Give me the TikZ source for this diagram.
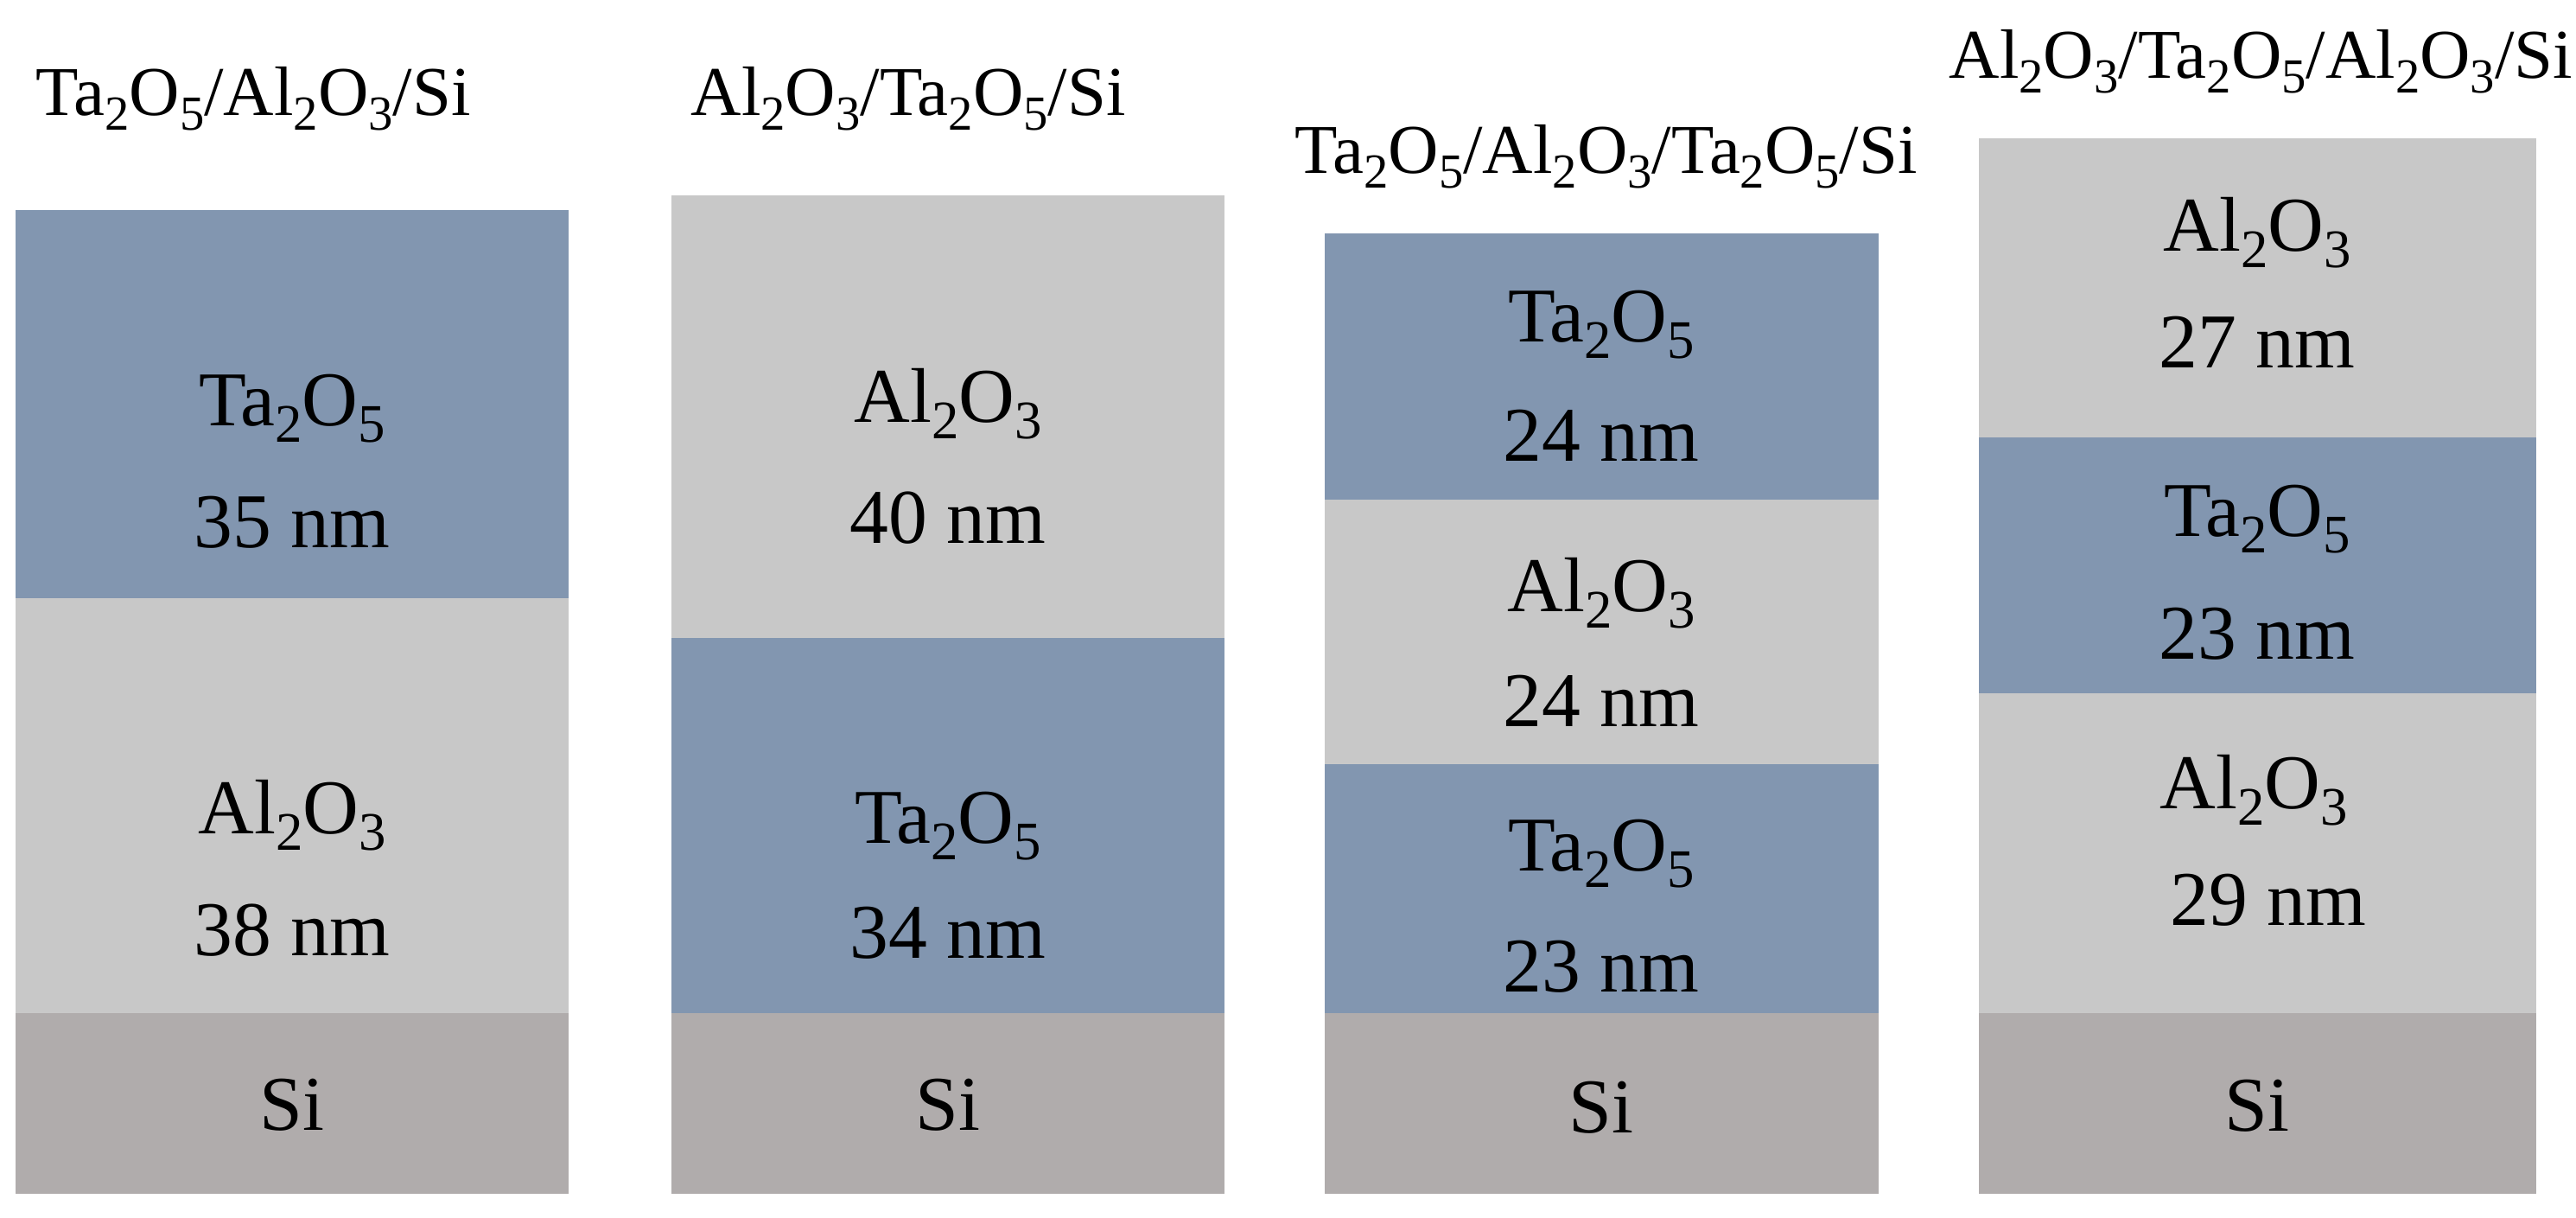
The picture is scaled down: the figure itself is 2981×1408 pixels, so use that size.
\documentclass[tikz,border=0pt]{standalone}
\usepackage{fontspec}
\usepackage{graphicx}
\setmainfont{Liberation Serif}
\usetikzlibrary{fit}
\definecolor{taclr}{RGB}{130,150,176}
\definecolor{alclr}{RGB}{200,200,200}
\definecolor{siclr}{RGB}{176,172,172}
\newcommand\sbx[1]{\raisebox{-0.22em}{\scalebox{0.7}{#1}}}
\newcommand\TaO{Ta\sbx{2}O\sbx{5}}
\newcommand\AlO{Al\sbx{2}O\sbx{3}}
\tikzset{
  layerbox/.style={inner sep=0pt, outer sep=0pt, draw=none},
  lbl/.style={anchor=base, inner sep=0pt, font=\fontsize{25.5}{30}\selectfont},
  ttl/.style={anchor=base west, inner sep=0pt, font=\fontsize{23}{28}\selectfont}
}
\begin{document}
\begin{tikzpicture}[x=0.01cm, y=-0.01cm]
\useasboundingbox (0,0) rectangle (2981,1408);
\fill[white] (0,0) rectangle (2981,1408);
% column 1
\node[layerbox, fill=taclr, fit={(18,243)(658,692)}] (c1a) {};
\node[layerbox, fill=alclr, fit={(18,692)(658,1172)}] (c1b) {};
\node[layerbox, fill=siclr, fit={(18,1172)(658,1381)}] (c1s) {};
% column 2
\node[layerbox, fill=alclr, fit={(777,226)(1417,738)}] (c2a) {};
\node[layerbox, fill=taclr, fit={(777,738)(1417,1172)}] (c2b) {};
\node[layerbox, fill=siclr, fit={(777,1172)(1417,1381)}] (c2s) {};
% column 3
\node[layerbox, fill=taclr, fit={(1533,270)(2174,578)}] (c3a) {};
\node[layerbox, fill=alclr, fit={(1533,578)(2174,884)}] (c3b) {};
\node[layerbox, fill=taclr, fit={(1533,884)(2174,1172)}] (c3c) {};
\node[layerbox, fill=siclr, fit={(1533,1172)(2174,1381)}] (c3s) {};
% column 4
\node[layerbox, fill=alclr, fit={(2290,160)(2935,506)}] (c4a) {};
\node[layerbox, fill=taclr, fit={(2290,506)(2935,802)}] (c4b) {};
\node[layerbox, fill=alclr, fit={(2290,802)(2935,1172)}] (c4c) {};
\node[layerbox, fill=siclr, fit={(2290,1172)(2935,1381)}] (c4s) {};
% titles
\node[ttl] (t1) at (41,133) {\TaO/\AlO/Si};
\node[ttl] (t2) at (799,133) {\AlO/\TaO/Si};
\node[ttl] (t3) at (1498,200) {\TaO/\AlO/\TaO/Si};
\node[ttl] (t4) at (2255,90) {\AlO/\TaO/\AlO/Si};
% labels column 1
\node[lbl] (l1a) at (338,492) {\TaO};
\node[lbl] (l1b) at (338,633) {35 nm};
\node[lbl] (l1c) at (338,964) {\AlO};
\node[lbl] (l1d) at (338,1105) {38 nm};
\node[lbl] (l1s) at (338,1307) {Si};
% labels column 2
\node[lbl] (l2a) at (1097,488) {\AlO};
\node[lbl] (l2b) at (1097,628) {40 nm};
\node[lbl] (l2c) at (1097,975) {\TaO};
\node[lbl] (l2d) at (1097,1108) {34 nm};
\node[lbl] (l2s) at (1097,1307) {Si};
% labels column 3
\node[lbl] (l3a) at (1853,395) {\TaO};
\node[lbl] (l3b) at (1853,533) {24 nm};
\node[lbl] (l3c) at (1853,707) {\AlO};
\node[lbl] (l3d) at (1853,840) {24 nm};
\node[lbl] (l3e) at (1853,1007) {\TaO};
\node[lbl] (l3f) at (1853,1147) {23 nm};
\node[lbl] (l3s) at (1853,1310) {Si};
% labels column 4
\node[lbl] (l4a) at (2612,290) {\AlO};
\node[lbl] (l4b) at (2612,425) {27 nm};
\node[lbl] (l4c) at (2612,620) {\TaO};
\node[lbl] (l4d) at (2612,762) {23 nm};
\node[lbl] (l4e) at (2608,935) {\AlO};
\node[lbl] (l4f) at (2625,1070) {29 nm};
\node[lbl] (l4s) at (2612,1308) {Si};
\end{tikzpicture}
\end{document}
